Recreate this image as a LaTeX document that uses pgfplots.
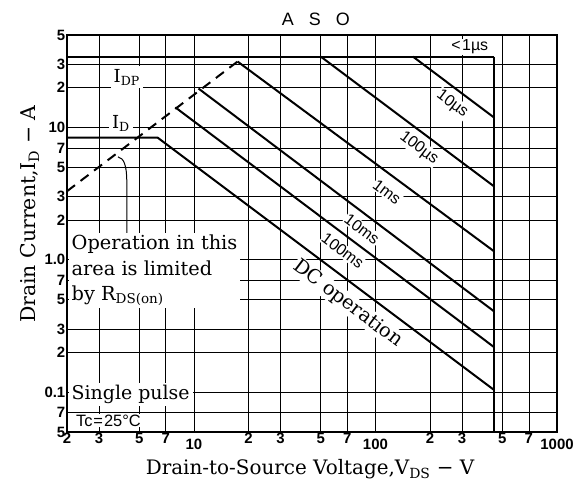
\documentclass[border=0pt]{standalone}
\usepackage{fontspec}
\setmainfont{DejaVu Serif}
\newfontfamily\hv{Liberation Sans}
\usepackage{pgfplots}
\pgfplotsset{compat=1.18}
\begin{document}
\begin{tikzpicture}
\path[use as bounding box] (-67bp,-51bp) rectangle (515bp,432bp);
\begin{axis}[
  at={(0,0)}, anchor=south west,
  scale only axis, width=490bp, height=397bp,
  xmode=log, ymode=log,
  xmin=2, xmax=1000, ymin=0.05, ymax=50,
  xminorticks=false, yminorticks=false,
  xtick={2,3,5,7,10,20,30,50,70,100,200,300,500,700,1000},
  xticklabels={2,3,5,7,\raisebox{-6bp}[\height][0pt]{10},2,3,5,7,\raisebox{-6bp}[\height][0pt]{100},2,3,5,7,\raisebox{-6bp}[\height][0pt]{1000}},
  ytick={0.05,0.07,0.1,0.2,0.3,0.5,0.7,1,2,3,5,7,10,20,30,50},
  yticklabels={5,7,0.1,2,3,5,7,1.0,2,3,5,7,10,2,3,5},
  major tick length=0,
  grid=major,
  major grid style={black, line width=0.7bp},
  axis line style={line width=1.3bp},
  tick label style={font=\hv\bfseries\fontsize{15}{15}\selectfont},
  xticklabel style={inner sep=1bp, anchor=north},
  yticklabel style={inner sep=1.5bp, anchor=east},
  clip mode=individual,
]
% I_DP limit and V_DSS limit
\addplot[black, line width=2bp] coordinates {(2,34.3) (450,34.3)};
\addplot[black, line width=2.8bp] coordinates {(450,34.3) (450,0.05)};
% I_D and DC operation
\addplot[black, line width=2bp] coordinates {(2,8.4) (6.3,8.4) (450,0.104)};
% 100 ms
\addplot[black, line width=2bp] coordinates {(7.9,14.2) (450,0.219)};
% 10 ms
\addplot[black, line width=2bp] coordinates {(10.6,19.7) (450,0.408)};
% 1 ms
\addplot[black, line width=2bp] coordinates {(17.4,31.5) (450,1.16)};
% 100 us
\addplot[black, line width=2bp] coordinates {(50,34.3) (450,3.59)};
% 10 us
\addplot[black, line width=2bp] coordinates {(161,34.3) (450,11.9)};
% R_DS(on) limit
\addplot[black, line width=2bp, dash pattern=on 10bp off 7bp] coordinates {(2,3.3) (17.4,31.5)};

% leader
\draw[black, line width=1bp] (rel axis cs:0.122,0.501) -- (rel axis cs:0.122,0.63) .. controls (rel axis cs:0.122,0.672) and (rel axis cs:0.116,0.69) .. (rel axis cs:0.104,0.693);

% labels
\node[font=\hv\fontsize{18}{18}\selectfont] at (rel axis cs:0.508,1.040) {A\hspace{15bp}S\hspace{15bp}O};
\node[font=\hv\fontsize{16}{16}\selectfont, fill=white, inner sep=1bp] at (rel axis cs:0.822,0.970) {<\hspace{1.5bp}1µs};
\node[font=\fontsize{18}{18}\selectfont, fill=white, inner sep=3bp] at (rel axis cs:0.122,0.894) {I\textsubscript{DP}};
\node[font=\fontsize{18}{18}\selectfont, fill=white, inner sep=3bp] at (rel axis cs:0.110,0.778) {I\textsubscript{D}};
\node[font=\hv\fontsize{16}{16}\selectfont, fill=white, inner sep=1bp, rotate=-37] at (rel axis cs:0.786,0.826) {10µs};
\node[font=\hv\fontsize{16}{16}\selectfont, fill=white, inner sep=1bp, rotate=-37] at (rel axis cs:0.718,0.715) {100µs};
\node[font=\hv\fontsize{16}{16}\selectfont, fill=white, inner sep=1bp, rotate=-37] at (rel axis cs:0.653,0.604) {1ms};
\node[font=\hv\fontsize{16}{16}\selectfont, fill=white, inner sep=1bp, rotate=-37] at (rel axis cs:0.602,0.511) {10ms};
\node[font=\hv\fontsize{16}{16}\selectfont, fill=white, inner sep=1bp, rotate=-37] at (rel axis cs:0.563,0.456) {100ms};
\node[font=\fontsize{19.5}{19.5}\selectfont, fill=white, inner sep=1bp, rotate=-37] at (rel axis cs:0.573,0.323) {DC operation};
\node[font=\fontsize{19.4}{25.5}\selectfont, fill=white, inner xsep=3bp, inner ysep=2bp, align=left, anchor=north west] at (rel axis cs:0.003,0.501) {Operation in this\\area is limited\\by R\textsubscript{DS(on)}};
\node[font=\fontsize{19}{19}\selectfont, fill=white, inner xsep=3bp, inner ysep=2bp, anchor=base west] at (rel axis cs:0.003,0.081) {Single pulse};
\node[font=\hv\fontsize{16.5}{16.5}\selectfont, fill=white, inner xsep=2bp, inner ysep=1bp, anchor=base west] at (rel axis cs:0.014,0.015) {Tc\hspace{1bp}=\hspace{1bp}25°C};
% axis titles
\node[font=\fontsize{20}{20}\selectfont, anchor=base] at (rel axis cs:0.496,-0.108) {Drain-to-Source Voltage,V\textsubscript{DS} − V};
\node[font=\fontsize{20.5}{20.5}\selectfont, rotate=90] at (rel axis cs:-0.0755,0.549) {Drain Current,I\textsubscript{D} − A};
\end{axis}
\end{tikzpicture}
\end{document}
